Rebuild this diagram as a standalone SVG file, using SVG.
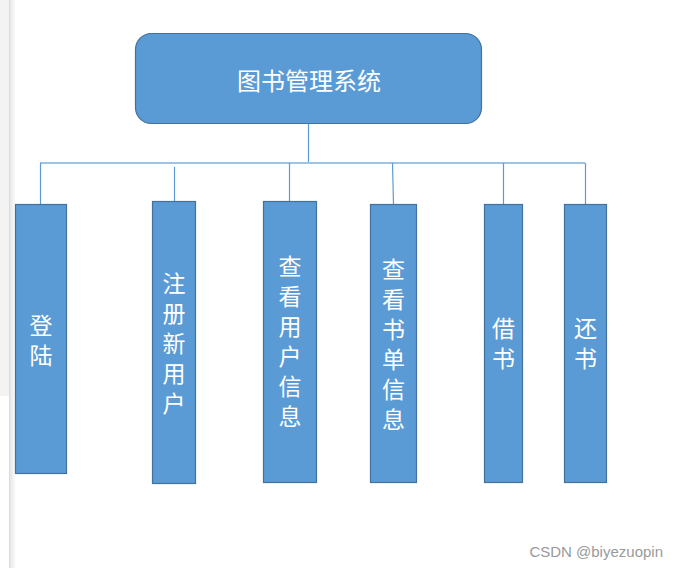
<svg xmlns="http://www.w3.org/2000/svg" width="678" height="568" viewBox="0 0 678 568">
<defs>
<linearGradient id="sh" x1="0" x2="1" y1="0" y2="0">
<stop offset="0" stop-color="#e6e6e6"/>
<stop offset="1" stop-color="#ffffff"/>
</linearGradient>
</defs>
<style>
.box{fill:#5b9bd5;stroke:#41719c;stroke-width:1.2}
.lbl{font-family:"Microsoft YaHei","Noto Sans CJK SC",sans-serif;font-size:23px;fill:#ffffff;text-anchor:middle}
.vt{writing-mode:vertical-rl;letter-spacing:7px}
.ln{stroke:#5b9bd5;stroke-width:1.2;fill:none}
.hl{stroke:#9dc3e6;stroke-width:2;fill:none}
.wm{font-family:"Liberation Sans",Arial,sans-serif;font-size:15px;fill:#9a9a9a}
</style>
<rect x="0" y="0" width="678" height="568" fill="#ffffff"/>
<rect x="0" y="0" width="9" height="396" fill="#f3f3f3"/>
<rect x="10" y="0" width="6" height="568" fill="url(#sh)"/>
<line x1="9.5" y1="0" x2="9.5" y2="568" stroke="#dcdcdc" stroke-width="1"/>
<g id="connectors">
<line class="ln" x1="308.5" y1="123" x2="308.5" y2="163"/>
<line class="hl" x1="40" y1="163" x2="585" y2="163"/>
<line class="ln" x1="40.5" y1="163" x2="40.5" y2="204"/>
<line class="ln" x1="174.5" y1="167" x2="174.5" y2="201"/>
<line class="ln" x1="289.5" y1="163" x2="289.5" y2="201"/>
<line class="ln" x1="392.5" y1="163" x2="393.5" y2="204"/>
<line class="ln" x1="503.5" y1="163" x2="503.5" y2="204"/>
<line class="ln" x1="585.5" y1="163" x2="585.5" y2="204"/>
</g>
<g id="root">
<rect class="box" x="135.5" y="33.5" width="346" height="90" rx="16" ry="16"/>
<text class="lbl" x="309" y="79" dominant-baseline="central" style="font-size:24px">图书管理系统</text>
</g>
<g id="login">
<rect class="box" x="15.5" y="204.5" width="51" height="269"/>
<text class="lbl vt" x="41" y="343.5">登陆</text>
</g>
<g id="register">
<rect class="box" x="152.5" y="201.5" width="43" height="282"/>
<text class="lbl vt" x="174" y="346.5">注册新用户</text>
</g>
<g id="userinfo">
<rect class="box" x="263.5" y="201.5" width="53" height="281"/>
<text class="lbl vt" x="290" y="345">查看用户信息</text>
</g>
<g id="booklist">
<rect class="box" x="370.5" y="204.5" width="46" height="278"/>
<text class="lbl vt" x="393.5" y="347.5">查看书单信息</text>
</g>
<g id="borrow">
<rect class="box" x="484.5" y="204.5" width="38" height="278"/>
<text class="lbl vt" x="503.5" y="346.5">借书</text>
</g>
<g id="return">
<rect class="box" x="564.5" y="204.5" width="42" height="278"/>
<text class="lbl vt" x="585.5" y="346.5">还书</text>
</g>
<text class="wm" x="663" y="557" text-anchor="end">CSDN @biyezuopin</text>
</svg>
